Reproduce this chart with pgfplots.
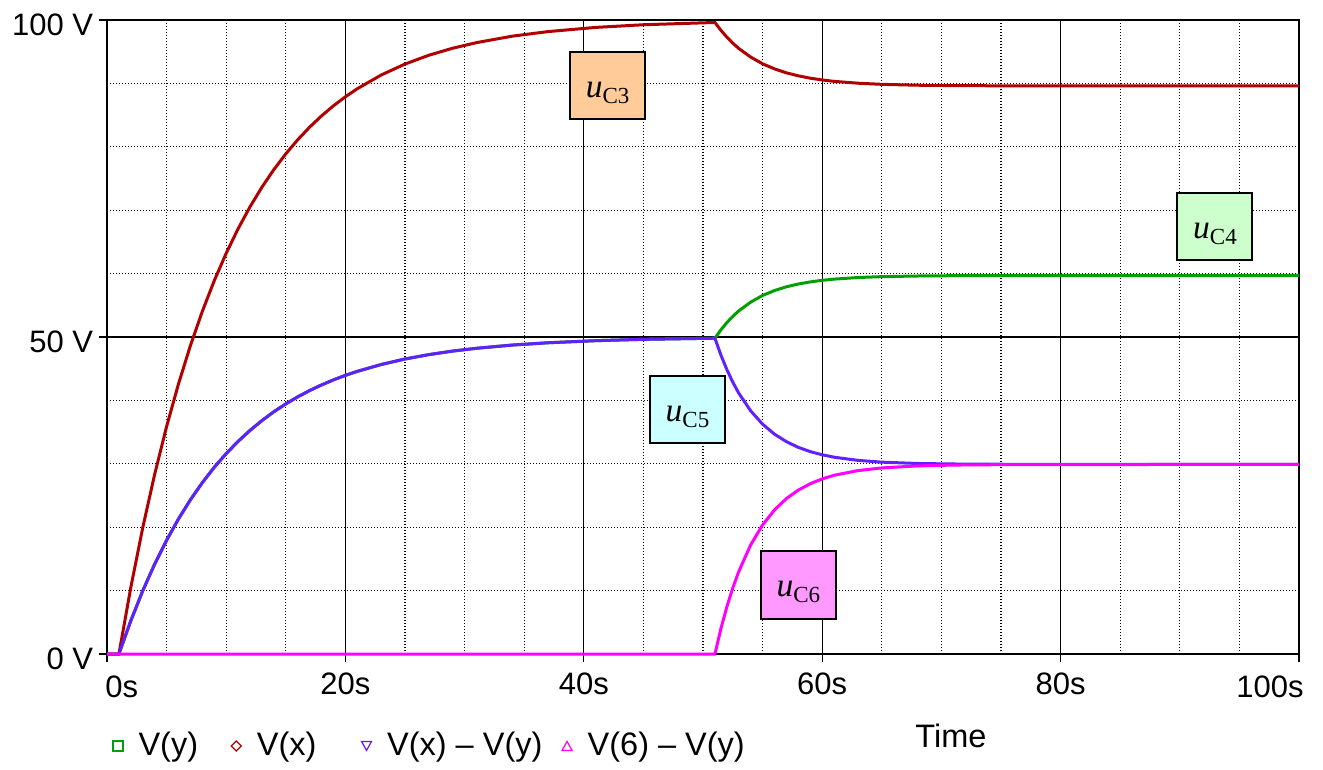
\documentclass[border=0pt]{standalone}
\usepackage{pgfplots}
\pgfplotsset{compat=1.18}
\usepackage{fontspec}
\setmainfont{Liberation Sans}
\newfontfamily\seriffont{Liberation Serif}

\definecolor{cRed}{RGB}{176,0,0}
\definecolor{cGreen}{RGB}{0,160,0}
\definecolor{cBlue}{RGB}{96,32,255}
\definecolor{cMag}{RGB}{255,0,255}
\definecolor{bOrange}{RGB}{255,204,153}
\definecolor{bGreen}{RGB}{204,255,204}
\definecolor{bCyan}{RGB}{204,255,255}
\definecolor{bMag}{RGB}{255,153,255}

\newcommand{\tickfont}{\fontsize{12.4pt}{14pt}\selectfont}
\newcommand{\legfont}{\fontsize{13pt}{15pt}\selectfont}
\newcommand{\uC}[1]{{\seriffont\fontsize{13.4pt}{14pt}\selectfont\itshape u\raisebox{-2.4pt}{\upshape\fontsize{9.2pt}{10pt}\selectfont C#1}}}

\tikzset{ubox/.style={draw=black, line width=0.8pt, minimum width=30pt, minimum height=27pt, inner sep=0pt}}

\begin{document}
\begin{tikzpicture}
\useasboundingbox (-42.8pt,-46pt) rectangle (486.4pt,261.6pt);
\begin{axis}[
  at={(0pt,0pt)}, anchor=south west,
  scale only axis, width=476.8pt, height=253.6pt,
  xmin=0, xmax=100, ymin=0, ymax=100,
  clip=false,
  xtick={0,20,40,60,80,100},
  xticklabels={,20s,40s,60s,80s,},
  ytick={0,50,100},
  yticklabels={0 V,50 V,100 V},
  minor xtick={5,10,15,25,30,35,45,50,55,65,70,75,85,90,95},
  minor ytick={10,20,30,40,60,70,80,90},
  grid=both,
  major grid style={black, line width=0.5pt},
  minor grid style={black, line width=0.5pt, dash pattern=on 0.45pt off 0.75pt},
  axis line style={black, line width=0.6pt},
  tick align=outside, xtick pos=left, ytick pos=left,
  major tick length=3.2pt, minor tick length=0pt,
  tick style={black, line width=0.5pt},
  /pgf/number format/assume math mode=true,
  tick label style={font=\tickfont},
  yticklabel style={anchor=east, xshift=1.2pt, yshift=-2pt},
  xticklabel style={anchor=base, yshift=-12.8pt},
  xlabel={Time},
  xlabel style={at={(axis description cs:0.708,-0.1467)}, anchor=base, font=\legfont},
  legend columns=4,
  legend cell align=left,
  legend style={draw=none, fill=none, font=\legfont, inner sep=0pt,
    at={(axis description cs:0.004,-0.1450)}, anchor=west,
    /tikz/every odd column/.style={column sep=4pt},
    /tikz/column 2/.style={column sep=11pt},
    /tikz/column 4/.style={column sep=15.8pt},
    /tikz/column 6/.style={column sep=5.6pt}},
]
% V(y)
\addplot[cGreen, line width=1.2pt,
  legend image code/.code={\draw[cGreen, line width=0.5pt] (0pt,-2pt) rectangle (4pt,2pt);}]
coordinates {(0,0)(1,0)(2,5.26)(3,9.97)(4,14.18)(5,17.94)(6,21.31)(7,24.33)(8,27.03)(9,29.45)(10,31.61)(11,33.54)(12,35.27)(13,36.82)(14,38.21)(15,39.45)(16,40.56)(17,41.55)(18,42.44)(19,43.24)(20,43.95)(21,44.58)(23,45.66)(25,46.53)(27,47.22)(29,47.78)(31,48.22)(34,48.73)(37,49.09)(41,49.42)(45,49.63)(51,49.81)
(51.5,51.13)(52,52.27)(52.5,53.26)(53,54.12)(54,55.50)(55,56.55)(56,57.33)(57,57.92)(58,58.36)(59,58.69)(60,58.94)(61,59.13)(63,59.38)(65,59.52)(68,59.62)(71,59.67)(76,59.69)(100,59.7)};
\addlegendentry{V(y)}
% V(x)
\addplot[cRed, line width=1.2pt,
  legend image code/.code={\draw[cRed, line width=0.5pt] (0pt,0pt) -- (2pt,2pt) -- (4pt,0pt) -- (2pt,-2pt) -- cycle;}]
coordinates {(0,0)(1,0)(2,10.52)(3,19.93)(4,28.35)(5,35.88)(6,42.62)(7,48.66)(8,54.06)(9,58.89)(10,63.21)(11,67.08)(12,70.54)(13,73.64)(14,76.41)(15,78.89)(16,81.11)(17,83.10)(18,84.88)(19,86.47)(20,87.89)(21,89.16)(23,91.32)(25,93.05)(27,94.44)(29,95.55)(31,96.43)(34,97.45)(37,98.17)(41,98.83)(45,99.25)(51,99.61)
(51.5,98.38)(52,97.29)(52.5,96.34)(53,95.51)(54,94.15)(55,93.09)(56,92.29)(57,91.66)(58,91.19)(59,90.82)(60,90.54)(61,90.32)(63,90.03)(65,89.85)(68,89.71)(71,89.65)(76,89.61)(100,89.6)};
\addlegendentry{V(x)}
% V(x) - V(y)
\addplot[cBlue, line width=1.2pt,
  legend image code/.code={\draw[cBlue, line width=0.5pt] (0pt,1.8pt) -- (4pt,1.8pt) -- (2pt,-1.8pt) -- cycle;}]
coordinates {(0,0)(1,0)(2,5.26)(3,9.97)(4,14.18)(5,17.94)(6,21.31)(7,24.33)(8,27.03)(9,29.45)(10,31.61)(11,33.54)(12,35.27)(13,36.82)(14,38.21)(15,39.45)(16,40.56)(17,41.55)(18,42.44)(19,43.24)(20,43.95)(21,44.58)(23,45.66)(25,46.53)(27,47.22)(29,47.78)(31,48.22)(34,48.73)(37,49.09)(41,49.42)(45,49.63)(51,49.81)
(51.5,47.16)(52,44.86)(52.5,42.87)(53,41.14)(54,38.35)(55,36.25)(56,34.67)(57,33.49)(58,32.59)(59,31.92)(60,31.42)(61,31.04)(63,30.54)(65,30.26)(68,30.05)(71,29.97)(76,29.92)(100,29.9)};
\addlegendentry{V(x) -- V(y)}
% V(6) - V(y)
\addplot[cMag, line width=1.2pt,
  legend image code/.code={\draw[cMag, line width=0.5pt] (0pt,-1.8pt) -- (4pt,-1.8pt) -- (2pt,1.8pt) -- cycle;}]
coordinates {(0,0)(51,0)(51.5,3.98)(52,7.43)(52.5,10.42)(53,13.01)(54,17.21)(55,20.36)(56,22.73)(57,24.52)(58,25.86)(59,26.86)(60,27.62)(61,28.19)(63,28.93)(65,29.35)(68,29.67)(71,29.80)(76,29.88)(100,29.9)};
\addlegendentry{V(6) -- V(y)}

% end tick labels kept inside the frame
\node[font=\tickfont, anchor=base west, inner sep=0pt] at (axis cs:0,0) [xshift=-0.8pt, yshift=-17.2pt] {0s};
\node[font=\tickfont, anchor=base east, inner sep=0pt] at (axis cs:100,0) [xshift=2pt, yshift=-17.2pt] {100s};

% curve labels
\node[ubox, fill=bOrange] at (axis cs:42.0,89.7) {};
\node at (axis cs:42.0,89.7) [yshift=-3pt] {\uC{3}};
\node[ubox, fill=bGreen] at (axis cs:92.95,67.4) {};
\node at (axis cs:92.95,67.4) [yshift=-3pt] {\uC{4}};
\node[ubox, fill=bCyan] at (axis cs:48.7,38.6) {};
\node at (axis cs:48.7,38.6) [yshift=-3pt] {\uC{5}};
\node[ubox, fill=bMag] at (axis cs:58.0,10.9) {};
\node at (axis cs:58.0,10.9) [yshift=-3pt] {\uC{6}};
\end{axis}
\end{tikzpicture}
\end{document}
